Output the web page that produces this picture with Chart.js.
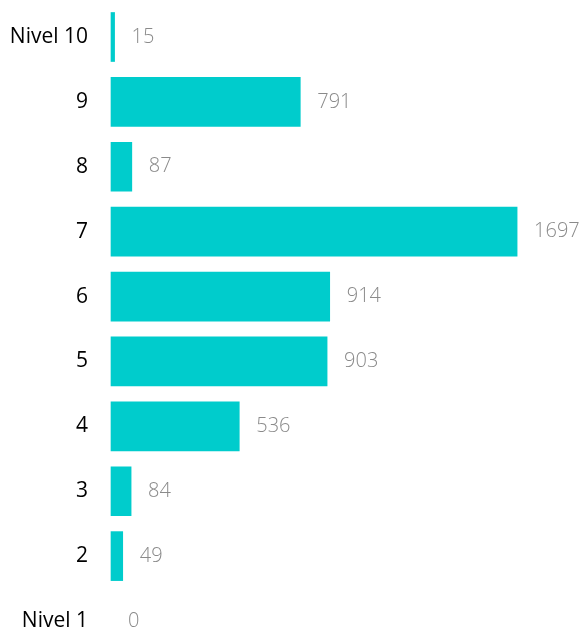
<!DOCTYPE html>
<html>
<head>
<meta charset="utf-8">
<script src="https://cdn.jsdelivr.net/npm/chart.js@4"></script>
<style>
  html, body { margin: 0; padding: 0; background: #fff; }
  #wrap { width: 581px; height: 632px; }
</style>
</head>
<body>
<div id="wrap"><canvas id="nivelesChart"></canvas></div>
<script>
// Niveles y cantidades
const levels = ["Nivel 10", "9", "8", "7", "6", "5", "4", "3", "2", "Nivel 1"];
const counts = [15, 791, 87, 1697, 914, 903, 536, 84, 49, 0];

const barColor = "#00CCCC";

// Etiquetas de valor a la derecha de cada barra
const valueLabels = {
    id: 'valueLabels',
    afterDatasetsDraw(chart) {
        const ctx = chart.ctx;
        const meta = chart.getDatasetMeta(0);
        ctx.save();
        ctx.font = '300 20px "Open Sans"';
        ctx.fillStyle = '#8a8a8a';
        ctx.textAlign = 'left';
        ctx.textBaseline = 'middle';
        meta.data.forEach((bar, i) => {
            ctx.fillText(String(counts[i]), bar.x + 17, bar.y);
        });
        ctx.restore();
    }
};

new Chart(document.getElementById('nivelesChart'), {
    type: 'bar',
    data: {
        labels: levels,
        datasets: [{
            data: counts,
            // sin barra visible cuando el valor es 0
            backgroundColor: (c) => c.raw === 0 ? 'rgba(0,0,0,0)' : barColor,
            barThickness: 49,
            clip: false
        }]
    },
    options: {
        indexAxis: 'y',
        responsive: true,
        maintainAspectRatio: false,
        animation: false,
        layout: { padding: { top: 37, bottom: 11, left: 0, right: 0 } },
        plugins: {
            legend: { display: false },
            tooltip: { enabled: false }
        },
        scales: {
            x: {
                display: false,
                min: 0,
                max: 1964
            },
            y: {
                offset: false,
                grid: { display: false, drawTicks: false },
                border: { display: false },
                ticks: {
                    color: '#000',
                    padding: 23,
                    font: { family: 'Open Sans', size: 21 }
                },
                afterFit(scale) {
                    scale.width = 111;
                    scale.paddingTop = 0;
                    scale.paddingBottom = 0;
                }
            }
        }
    },
    plugins: [valueLabels]
});
</script>
</body>
</html>
